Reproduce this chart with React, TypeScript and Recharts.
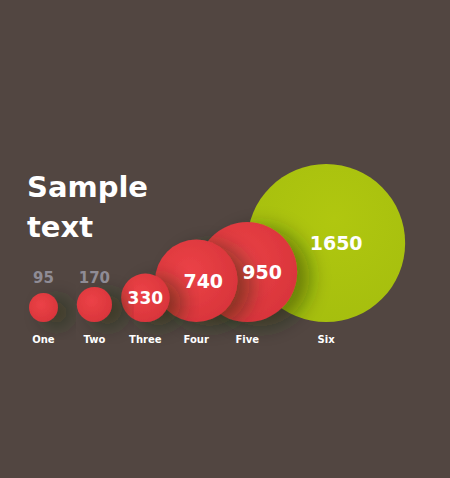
import { Scatter, ScatterChart, XAxis, YAxis, ZAxis } from "recharts";

const names = ["One", "Two", "Three", "Four", "Five", "Six"];
const values = [95, 170, 330, 740, 950, 1650];
// where each bubble sits along the row (Six is pushed further out)
const slots = [1, 2, 3, 4, 5, 6.55];
const tones = ["red", "red", "red", "red", "red", "green"];
// value labels sit a little right of centre where a front bubble covers the left side
const labelNudge = [0, 0, 0, 7, 15, 10];

const font = "'DejaVu Sans', Verdana, sans-serif";
const bg = "#524641";

// drawn back to front: the biggest bubble first
const rows = names
  .map((name, i) => ({ name, slot: slots[i], base: 0, value: values[i], tone: tones[i], nudge: labelNudge[i] }))
  .reverse();

// size comes from the ZAxis range, read here as a diameter
function Bubble(props: any) {
  const { cx, cy, size, payload } = props;
  const r = size / 2;
  const green = payload.tone === "green";
  return (
    <circle
      cx={cx}
      cy={cy - r}
      r={r}
      fill={green ? "url(#greenBall)" : "url(#redBall)"}
      filter={green ? undefined : "url(#castShadow)"}
    />
  );
}

function BubbleLabel(props: any) {
  const { cx, cy, size, payload } = props;
  const r = size / 2;
  if (size < 40) {
    return (
      <text x={cx} y={cy - 39} textAnchor="middle" fill="#8f8c95" fontSize={15} fontWeight={700} fontFamily={font}>
        {payload.value}
      </text>
    );
  }
  return (
    <text
      x={cx + payload.nudge}
      y={cy - r}
      dy="0.36em"
      textAnchor="middle"
      fill="#ffffff"
      fontSize={payload.value < 500 ? 17 : 19}
      fontWeight={700}
      fontFamily={font}
    >
      {payload.value}
    </text>
  );
}

export default function App() {
  return (
    <div style={{ position: "absolute", left: 0, top: 0, width: 450, height: 478, background: bg, overflow: "hidden" }}>
      <div
        style={{
          position: "absolute",
          left: 27,
          top: 167,
          color: "#ffffff",
          fontFamily: font,
          fontWeight: 700,
          fontSize: 29,
          lineHeight: "40px",
          zIndex: 1,
        }}
      >
        Sample
        <br />
        text
      </div>
      <ScatterChart width={450} height={478} margin={{ top: 10, right: 50, bottom: 126, left: 18 }}>
        <defs>
          <radialGradient id="redBall" cx="42%" cy="40%" r="62%">
            <stop offset="0%" stopColor="#ec4247" />
            <stop offset="100%" stopColor="#d9353b" />
          </radialGradient>
          <radialGradient id="greenBall" cx="55%" cy="35%" r="65%">
            <stop offset="0%" stopColor="#b0c70f" />
            <stop offset="100%" stopColor="#a6bf0e" />
          </radialGradient>
          <filter id="castShadow" x="-60%" y="-60%" width="220%" height="220%">
            <feDropShadow dx="13" dy="5" stdDeviation="10" floodColor="#1f2a08" floodOpacity="0.45" />
          </filter>
        </defs>
        <XAxis
          type="number"
          dataKey="slot"
          domain={[0.5, 8]}
          ticks={slots}
          tickFormatter={(v: number) => names[slots.indexOf(v)] ?? ""}
          axisLine={false}
          tickLine={false}
          tickMargin={8}
          tick={{ fill: "#ffffff", fontSize: 10, fontWeight: 700, fontFamily: font }}
          interval={0}
        />
        <YAxis type="number" dataKey="base" domain={[0, 1]} hide />
        <ZAxis type="number" dataKey="value" domain={[0, 1650]} range={[21, 158]} />
        <Scatter data={rows} shape={Bubble} isAnimationActive={false} />
        <Scatter data={rows} shape={BubbleLabel} isAnimationActive={false} />
      </ScatterChart>
    </div>
  );
}
